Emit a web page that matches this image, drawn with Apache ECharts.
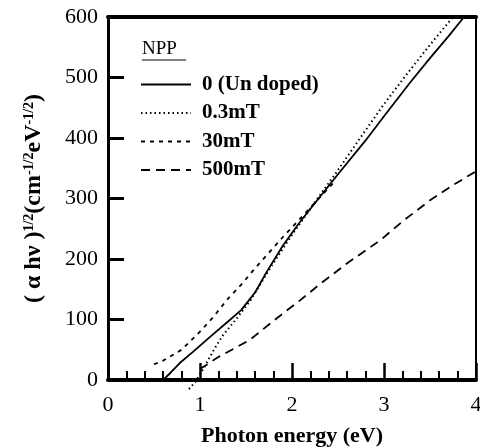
<!DOCTYPE html>
<html><head><meta charset="utf-8">
<script src="https://cdn.jsdelivr.net/npm/echarts@6/dist/echarts.min.js"></script>
<style>html,body{margin:0;padding:0;background:#fff}#c{width:480px;height:448px}</style>
</head><body><div id="c"></div>
<script>
const seriesNames = ['0 (Un doped)', '0.3mT', '30mT', '500mT'];
const xTicks = [0, 1, 2, 3, 4];
const yTicks = [0, 100, 200, 300, 400, 500, 600];
// [photon energy (eV), (alpha h nu)^1/2]
const undoped = [[0.6,0],[0.68,12],[0.78,28],[0.92,46],[1.1,70],[1.33,100],[1.45,116],[1.6,145],[1.73,180],[1.9,222],[2.09,262],[2.3,302],[2.5,340],[2.8,396],[3.0,436],[3.28,491],[3.5,532],[3.7,568],[3.87,600]];
const mT03 = [[0.88,-15],[0.95,-3],[1.05,22],[1.15,50],[1.25,74],[1.4,102],[1.55,132],[1.75,182],[2.0,240],[2.25,294],[2.5,347],[2.75,402],[3.0,456],[3.25,506],[3.5,554],[3.75,600]];
const mT30 = [[0.5,26],[0.6,32],[0.8,50],[1.0,80],[1.15,105],[1.29,132],[1.45,158],[1.6,185],[1.9,236],[2.2,285],[2.45,326]];
const mT500 = [[1.0,18],[1.2,38],[1.54,66],[1.8,98],[2.09,132],[2.3,158],[2.6,193],[2.96,231],[3.2,262],[3.5,297],[3.75,322],[4.0,345]];

const serif = '"Liberation Serif","DejaVu Serif",serif';
const chart = echarts.init(document.getElementById('c'));
function mk(name, data, type, width, clip) {
  return {name, type:'line', data, symbol:'none', clip: clip,
    lineStyle:{color:'#000', width, type}, itemStyle:{color:'#000'}, animation:false};
}
chart.setOption({
  animation:false,
  backgroundColor:'#fff',
  grid:{left:108, right:4, top:17, bottom:68, outerBoundsMode:'none'},
  legend:{
    data: seriesNames, orient:'vertical', left:140, top:74,
    padding:0, itemWidth:50, itemHeight:14, itemGap:7.5,
    itemStyle:{opacity:0},
    textStyle:{fontFamily:serif, fontWeight:'bold', fontSize:21, color:'#000', padding:[0,0,0,6]},
    selectedMode:false
  },
  xAxis:[{
    type:'value', min:xTicks[0], max:xTicks[xTicks.length-1], interval:1,
    name:'Photon energy (eV)', nameLocation:'middle', nameGap:45,
    nameTextStyle:{fontFamily:serif, fontWeight:'bold', fontSize:22, color:'#000'},
    axisLine:{lineStyle:{color:'#000', width:4}},
    axisTick:{inside:true, length:17, lineStyle:{color:'#000', width:2.5}},
    minorTick:{show:true, splitNumber:5, length:9, lineStyle:{color:'#000', width:2}},
    axisLabel:{fontFamily:serif, fontSize:22, color:'#000', margin:14},
    splitLine:{show:false}
  },{
    type:'value', position:'top', min:0, max:4,
    axisLine:{show:true, onZero:false, lineStyle:{color:'#000', width:4}},
    axisTick:{show:false}, axisLabel:{show:false}, splitLine:{show:false}
  }],
  yAxis:[{
    type:'value', min:yTicks[0], max:yTicks[yTicks.length-1], interval:100,
    name:'{a|( α hν )}{s|1/2}{a|(cm}{s|-1/2}{a|eV}{s|-1/2}{a|)}',
    nameLocation:'middle', nameRotate:90, nameGap:62,
    nameTextStyle:{rich:{
      a:{fontFamily:serif, fontWeight:'bold', fontSize:24, color:'#000'},
      s:{fontFamily:serif, fontWeight:'bold', fontSize:14, color:'#000', verticalAlign:'top', padding:[0,0,9,0]}
    }},
    axisLine:{show:true, lineStyle:{color:'#000', width:3}},
    axisTick:{inside:true, length:16, lineStyle:{color:'#000', width:3}},
    axisLabel:{fontFamily:serif, fontSize:22, color:'#000', margin:10},
    splitLine:{show:false}
  },{
    type:'value', position:'right', min:0, max:600,
    axisLine:{show:true, onZero:false, lineStyle:{color:'#000', width:2}},
    axisTick:{show:false}, axisLabel:{show:false}, splitLine:{show:false}
  }],
  graphic:[
    {type:'text', left:142, top:40, style:{text:'NPP', font:'19px "Liberation Serif"', fill:'#000'}},
    {type:'line', shape:{x1:142, y1:60, x2:186, y2:60}, style:{stroke:'#000', lineWidth:1}}
  ],
  series:[
    mk(seriesNames[0], undoped, 'solid', 1.8, true),
    mk(seriesNames[1], mT03, [1.5,3], 2, false),
    mk(seriesNames[2], mT30, [4,5], 1.8, true),
    mk(seriesNames[3], mT500, [9,6], 1.8, true)
  ]
});
</script></body></html>
